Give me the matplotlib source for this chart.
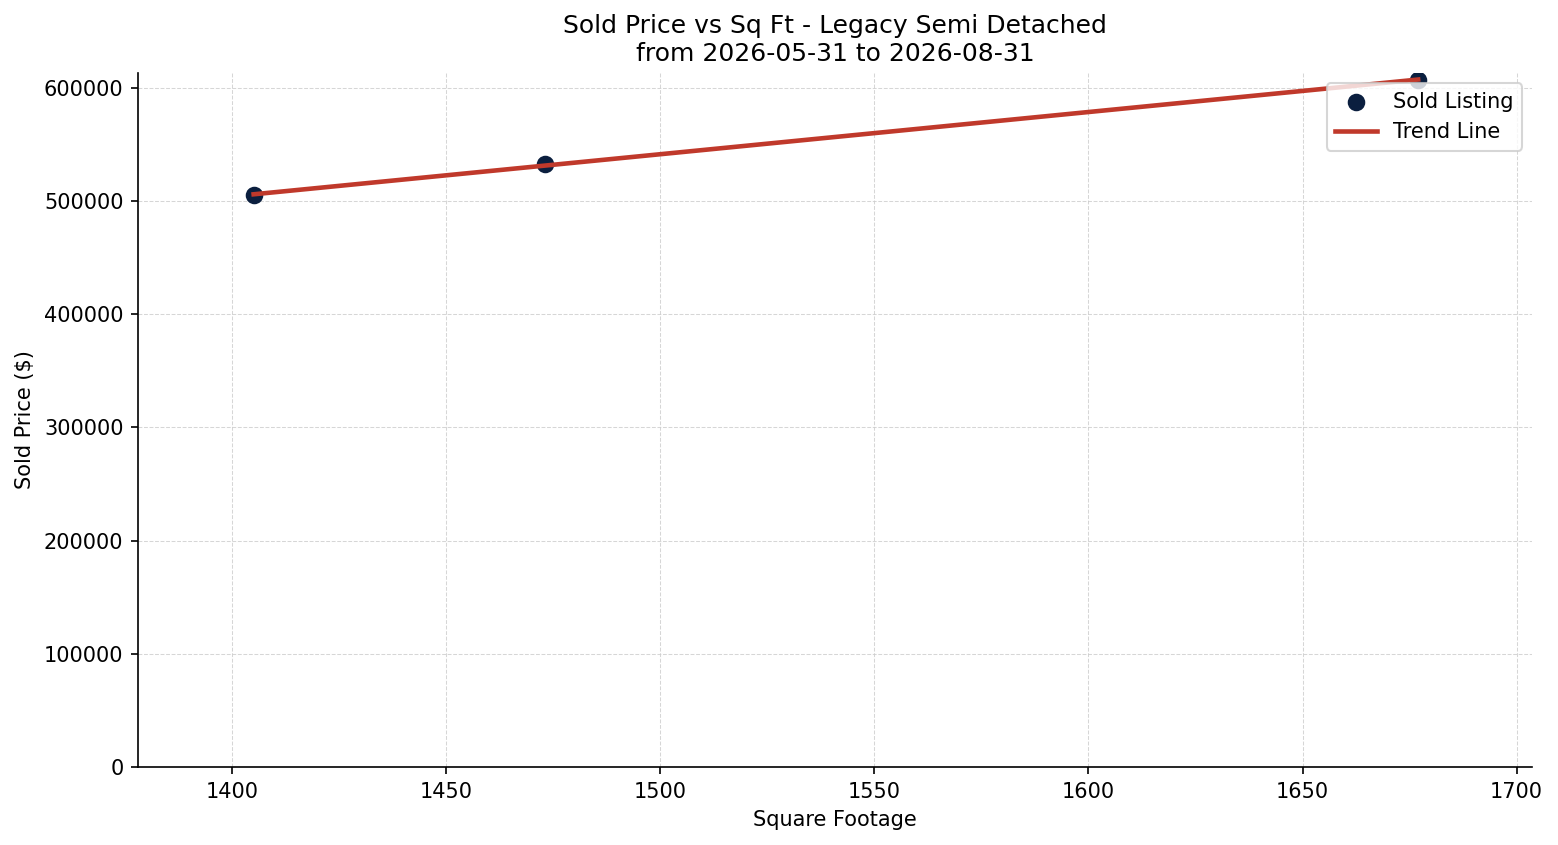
import numpy as np
import matplotlib
matplotlib.use("Agg")
import matplotlib.pyplot as plt

sqft = [1405, 1473, 1677]
price = [505000, 532500, 607000]
title = "Sold Price vs Sq Ft - Legacy Semi Detached\nfrom 2026-05-31 to 2026-08-31"

fig, ax = plt.subplots(figsize=(1558/150, 845/150), dpi=150)
fig.subplots_adjust(left=0.0886, right=0.9836, bottom=0.0923, top=0.9136)

ax.scatter(sqft, price, color="#0b1f3f", s=55, zorder=3, label="Sold Listing")
coef = np.polyfit(sqft, price, 1)
xs = np.array([min(sqft), max(sqft)])
ax.plot(xs, np.polyval(coef, xs), color="#c0392b", linewidth=2.2, zorder=4, label="Trend Line")

ax.set_xlim(1378, 1703.7)
ax.set_ylim(0, max(price) * 1.01)
ax.set_title(title, fontsize=12)
ax.set_xlabel("Square Footage", fontsize=10)
ax.set_ylabel("Sold Price ($)", fontsize=10)
ax.grid(True, linestyle="--", linewidth=0.5, color="#cccccc", alpha=0.8)
ax.set_axisbelow(True)
for s in ["top", "right"]:
    ax.spines[s].set_visible(False)
ax.legend(loc="upper right", fontsize=10)
fig.savefig("out.png", dpi=150)
